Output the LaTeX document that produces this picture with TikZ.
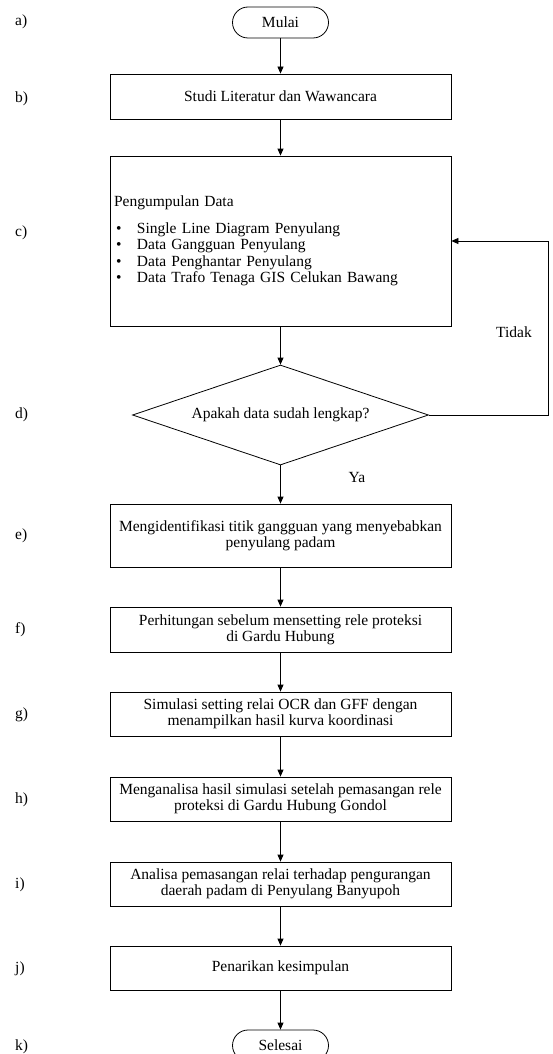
\documentclass[tikz,border=0pt]{standalone}
\usepackage{fontspec}
\setmainfont{Liberation Serif}
\usetikzlibrary{shapes.geometric,arrows.meta}
\begin{document}
\begin{tikzpicture}[x=1pt,y=-1pt,
  font=\fontsize{15.5}{16.3}\selectfont,
  stepbox/.style={draw,line width=0.8pt,minimum width=341pt,minimum height=45pt,align=center,inner sep=2pt},
  termbox/.style={draw,line width=0.8pt,rounded corners=15.5pt,minimum width=96pt,minimum height=31pt,inner sep=0pt},
  decbox/.style={draw,line width=0.8pt,diamond,aspect=2.96,minimum width=296pt,minimum height=100pt,inner sep=0pt},
  lbl/.style={anchor=west,inner sep=0pt},
  flow/.style={line width=0.8pt,-{Triangle[length=7pt,width=6pt]}}]
\path[use as bounding box] (0,0) rectangle (553,1054);
\node[termbox] (mulai) at (280.5,22.5) {Mulai};
\node[stepbox] (studi) at (280.5,96.5) {Studi Literatur dan Wawancara};
\node[stepbox,minimum height=170pt,text width=333pt,inner xsep=4pt,align=left] (data) at (280.5,241) {\mbox{}\\[-6.3pt]
Pengumpulan Data\\[11pt]
\makebox[23pt][l]{\hspace{2pt}\textbullet}Single Line Diagram Penyulang\\
\makebox[23pt][l]{\hspace{2pt}\textbullet}Data Gangguan Penyulang\\
\makebox[23pt][l]{\hspace{2pt}\textbullet}Data Penghantar Penyulang\\
\makebox[23pt][l]{\hspace{2pt}\textbullet}Data Trafo Tenaga GIS Celukan Bawang};
\node[decbox] (cek) at (280.5,415) {Apakah data sudah lengkap?};
\node[stepbox,minimum height=63pt] (ident) at (280.5,535.5) {Mengidentifikasi titik gangguan yang menyebabkan\\penyulang padam};
\node[stepbox] (hitung) at (280.5,629.5) {Perhitungan sebelum mensetting rele proteksi\\di Gardu Hubung};
\node[stepbox,minimum height=44pt] (simul) at (280.5,714) {Simulasi setting relai OCR dan GFF dengan\\menampilkan hasil kurva koordinasi};
\node[stepbox,minimum height=44pt] (analisa) at (280.5,799) {Menganalisa hasil simulasi setelah pemasangan rele\\proteksi di Gardu Hubung Gondol};
\node[stepbox,minimum height=44pt] (pasang) at (280.5,884) {Analisa pemasangan relai terhadap pengurangan\\daerah padam di Penyulang Banyupoh};
\node[stepbox,minimum height=44pt] (simpul) at (280.5,968) {Penarikan kesimpulan};
\node[termbox] (selesai) at (280.5,1045.5) {Selesai};
\coordinate (balik) at (548,415);
\node[inner sep=0pt] (tidak) at (514,332) {Tidak};
\node[inner sep=0pt] (ya) at (357,477) {Ya};
\draw[flow] (mulai) -- (studi);
\draw[flow] (studi) -- (data);
\draw[flow] (data) -- (cek);
\draw[flow] (cek) -- (ident);
\draw[flow] (ident) -- (hitung);
\draw[flow] (hitung) -- (simul);
\draw[flow] (simul) -- (analisa);
\draw[flow] (analisa) -- (pasang);
\draw[flow] (pasang) -- (simpul);
\draw[flow] (simpul) -- (selesai);
\draw[flow] (cek.east) -- (balik) |- (data.east);
\node[lbl] (la) at (15,22) {a)};
\node[lbl] (lb) at (15,99) {b)};
\node[lbl] (lc) at (15,233) {c)};
\node[lbl] (ld) at (15,415) {d)};
\node[lbl] (le) at (15,536) {e)};
\node[lbl] (lf) at (15,630) {f)};
\node[lbl] (lg) at (15,715) {g)};
\node[lbl] (lh) at (15,800) {h)};
\node[lbl] (li) at (15,885) {i)};
\node[lbl] (lj) at (15,969) {j)};
\node[lbl] (lk) at (15,1047) {k)};
\end{tikzpicture}
\end{document}
